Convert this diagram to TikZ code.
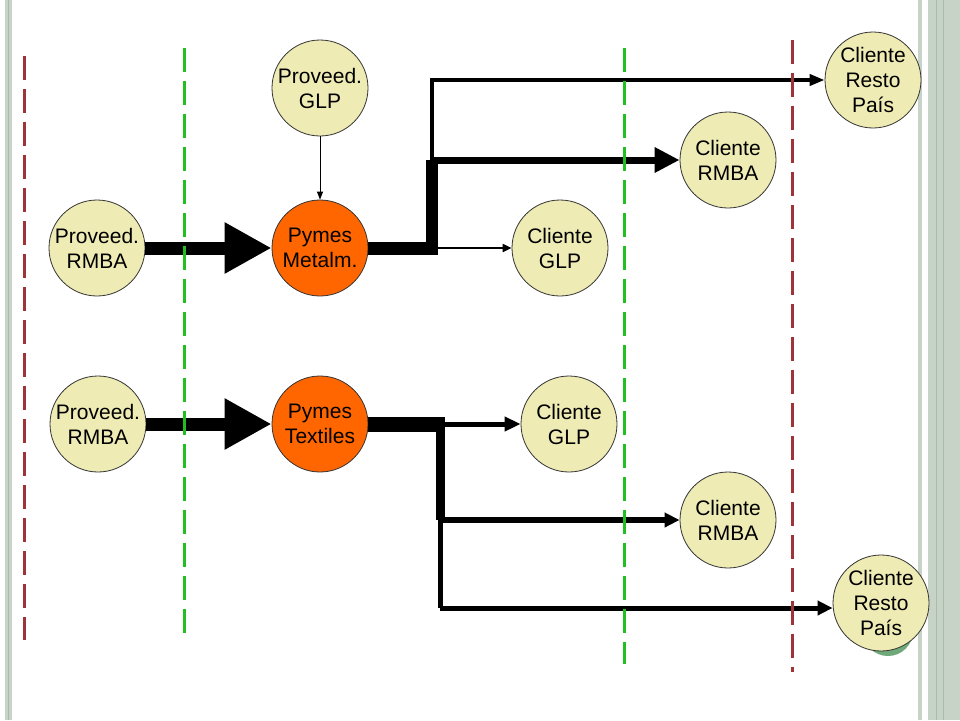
\documentclass[tikz,border=0pt]{standalone}
\usepackage{fontspec}
\setmainfont{Liberation Sans}
\usetikzlibrary{arrows.meta}
\definecolor{cream}{HTML}{EEEBB4}
\definecolor{pymeorange}{HTML}{FF6600}
\definecolor{dashbrown}{HTML}{9E3438}
\definecolor{dashgreen}{HTML}{22BF22}
\definecolor{framegreen}{HTML}{C6D3C6}
\definecolor{framedark}{HTML}{A9BCA9}
\definecolor{shadowgreen}{HTML}{6FA97A}
\tikzset{
  circ/.style={circle, draw=black!80, line width=0.8pt, minimum size=96pt, inner sep=0pt,
    align=center, fill=cream, font=\fontsize{21}{25}\selectfont},
  pyme/.style={circ, fill=pymeorange},
  bigflow/.style={line width=13pt, -{Triangle[length=47pt,width=48pt]}},
  vline/.style={line width=3pt, dash pattern=on 24pt off 9pt},
}
\begin{document}
\begin{tikzpicture}[x=1pt,y=-1pt]
\useasboundingbox (0,0) rectangle (960,720);
\fill[white] (0,0) rectangle (960,720);
% frame
\fill[framegreen] (5,0) rectangle (12,720);
\draw[framedark, line width=0.8pt] (8,0) -- (8,720);
\fill[framegreen] (918,0) rectangle (922,720);
\fill[white] (922,0) rectangle (928,720);
\fill[framegreen] (928,0) rectangle (960,720);
\draw[framedark, line width=0.8pt] (936,0) -- (936,720);
\draw[framedark, line width=0.6pt] (943,0) -- (943,720);
% shadow
\fill[shadowgreen] (888,631) circle (25);
% nodes
\node[circ] (pglp) at (320,88) {Proveed.\\GLP};
\node[circ] (prov1) at (97,248) {Proveed.\\RMBA};
\node[pyme] (pym1) at (320,248) {Pymes\\Metalm.};
\node[circ] (cg1) at (560,248) {Cliente\\GLP};
\node[circ] (crm1) at (728,160) {Cliente\\RMBA};
\node[circ] (cr1) at (873,80) {Cliente\\Resto\\País};
\node[circ] (prov2) at (98,424) {Proveed.\\RMBA};
\node[pyme] (pym2) at (320,424) {Pymes\\Textiles};
\node[circ] (cg2) at (569,424) {Cliente\\GLP};
\node[circ] (crm2) at (728,520) {Cliente\\RMBA};
\node[circ] (cr2) at (881,603) {Cliente\\Resto\\País};
% junction coordinates
\coordinate (a1) at (432,248);
\coordinate (a2) at (432,160);
\coordinate (a3) at (432,80);
\coordinate (b1) at (440,424);
\coordinate (b2) at (440,520);
\coordinate (b3) at (440,608);
% upper flows
\draw[line width=1pt, -{Triangle[length=8pt,width=6pt]}] (pglp) -- (pym1);
\draw[bigflow] (prov1) -- (pym1);
\draw[line width=13pt] (pym1.east) -- (a1);
\draw[line width=12pt] ([yshift=-7pt]a1) -- (a2);
\draw[line width=4pt, line join=miter, -{Triangle[length=15pt,width=11pt]}] (a2) -- (a3) -- (cr1);
\draw[line width=7pt, -{Triangle[length=25pt,width=24pt]}] (a2) -- (crm1);
\draw[line width=2pt, -{Triangle[length=9pt,width=8pt]}] (a1) -- (cg1);
% lower flows
\draw[bigflow] (prov2) -- (pym2);
\draw[line width=15pt] (pym2.east) -- (b1);
\draw[line width=9pt] ([yshift=7pt]b1) -- (b2);
\draw[line width=5pt, line join=miter] (b2) -- (b3);
\draw[line width=5pt, -{Triangle[length=16pt,width=14pt]}] (b1) -- (cg2);
\draw[line width=6pt, -{Triangle[length=15pt,width=14pt]}] (b2) -- (crm2);
\draw[line width=5pt, -{Triangle[length=15pt,width=14pt]}] (b3) -- (b3 -| cr2.west);
% dashed boundaries
\draw[vline, dashbrown] (24,56) -- (24,640);
\draw[vline, dashgreen] (184,48) -- (184,633);
\draw[vline, dashgreen] (624,48) -- (624,664);
\draw[vline, dashbrown] (792,40) -- (792,672);
\end{tikzpicture}
\end{document}
